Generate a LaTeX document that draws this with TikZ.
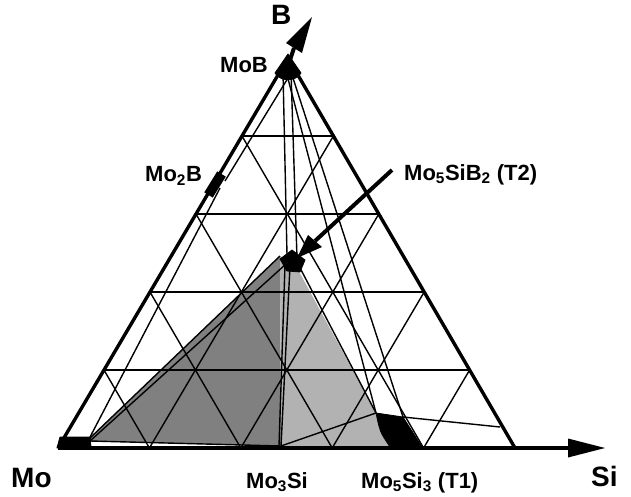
\documentclass[tikz,border=0pt]{standalone}
\usepackage{fontspec}
\setmainfont{Liberation Sans}
\usetikzlibrary{calc}
\begin{document}
\begin{tikzpicture}[x=1pt,y=-1pt,
  outer/.style={line width=3.4pt,line join=round},
  gridline/.style={line width=1.4pt},
  tie/.style={line width=1.4pt},
  blob/.style={fill=black,draw=black,line width=0.8pt,line join=round},
  lbl/.style={font=\fontsize{22}{26}\selectfont\bfseries,inner sep=0pt,anchor=base west},
  biglbl/.style={font=\fontsize{28}{32}\selectfont\bfseries,inner sep=0pt,anchor=base west}]
\useasboundingbox (0,0) rectangle (631,497);
% corners
\coordinate (A) at (58,448);
\coordinate (C) at (515,448);
\coordinate (P) at (288,58);
% phases
\coordinate (MoR) at (89,439);
\coordinate (MoRb) at (90,441);
\coordinate (Mo2B) at (220,188);
\coordinate (Mo2Bt) at (225,181);
\coordinate (T2a) at (280,256);
\coordinate (T2b) at (286,264);
\coordinate (T2c) at (285,265);
\coordinate (T2d) at (290,266);
\coordinate (T2e) at (296,266);
\coordinate (T2f) at (299,266);
\coordinate (Mo3Si) at (281,446);
\coordinate (Mo3Sib) at (279,446);
\coordinate (T1a) at (376,413);
\coordinate (T1b) at (403,417);
\coordinate (T1c) at (422,447);
\coordinate (T1d) at (390,447);
\coordinate (Rs) at (500,427);
\coordinate (Pa) at (288,78);
\coordinate (Pb) at (283,72);
\coordinate (Pc) at (291,72);
\coordinate (Pd) at (287,75);
\coordinate (Pe) at (292,75);
\coordinate (T2g) at (287,255);
\coordinate (T2h) at (297,258);
% grid points
\foreach \k in {1,2,3,4}{
  \coordinate (L\k) at ($(A)!\k/5!(P)$);
  \coordinate (R\k) at ($(C)!\k/5!(P)$);
  \coordinate (G\k) at ($(A)!\k/5!(C)$);
}
% gray regions
\fill[fill=black!50] (T2a) -- (Mo3Si) -- (MoRb) -- (MoR) -- cycle;
\fill[fill=black!30] (T2a) -- (T2e) -- (T1a) .. controls (380,432) .. (T1d) -- (Mo3Si) -- cycle;
% grid
\foreach \k in {1,2,3,4}{
  \pgfmathtruncatemacro\j{5-\k}
  \draw[gridline] (L\k) -- (R\k);
  \draw[gridline] (G\k) -- (R\j);
  \draw[gridline] (G\k) -- (L\k);
}
% tie lines
\draw[tie] (Pa) -- (Mo2Bt);
\draw[tie] (Mo2B) -- (MoR);
\draw[tie] (MoR) -- (T2a);
\draw[tie] (MoRb) -- (T2b);
\draw[tie] (MoRb) -- (Mo3Si);
\draw[tie] (T2c) -- (Mo3Sib);
\draw[tie] (T2d) -- (Mo3Si);
\draw[tie] (Pb) -- (T2g);
\draw[tie] (Pc) -- (T2h);
\draw[tie] (Pd) -- (T1a);
\draw[tie] (Pe) -- (T1b);
\draw[tie] (T2f) -- (T1a);
\draw[tie] (Mo3Si) -- (T1a);
\draw[tie] (T1b) -- (Rs);
% outer triangle
\draw[outer] (A) -- (P) -- (C);
% blobs
\fill[blob] (T1a) -- (T1b) -- (T1c) -- (T1d) .. controls (380,432) .. (T1a) -- cycle;
\fill[blob] (57,448) -- (60,437) -- (90,437) -- (91,447) -- cycle;
\fill[blob] (288,54) -- (301,73) .. controls (296,82) and (280,82) .. (275,73) -- cycle;
\fill[blob] (280,259) -- (292,250) -- (305,260) -- (300,272) -- (287,271) -- cycle;
\draw[line width=10pt] (208.5,195) -- (221.5,174);
% base axis arrow
\coordinate (SiHead) at (568,448);
\coordinate (SiTip) at (605,448);
\draw[line width=4pt] (A) -- (SiHead);
\fill (568,438.5) -- (SiTip) -- (568,457.5) -- cycle;
% B axis arrow
\coordinate (BBase) at (294,48);
\coordinate (BTip) at (312,17);
\draw[line width=4pt] (288,66) -- (BBase);
\fill (286,43) -- (BTip) -- (302,53) -- cycle;
% T2 pointer arrow
\coordinate (T2Start) at (392,170);
\coordinate (T2Base) at (315,241);
\coordinate (T2Tip) at (297,258);
\draw[line width=4pt] (T2Start) -- (T2Base);
\fill (308,235) -- (T2Tip) -- (322,247) -- cycle;
% labels
\node[biglbl] (lB) at (271,25) {B};
\node[lbl] (lMoB) at (220,73) {MoB};
\node[lbl] (lMo2B) at (145,182) {Mo\textsubscript{2}B};
\node[lbl] (lT2) at (404,180) {Mo\textsubscript{5}SiB\textsubscript{2} (T2)};
\node[biglbl] (lMo) at (11,487) {Mo};
\node[lbl] (lMo3Si) at (246,488) {Mo\textsubscript{3}Si};
\node[lbl] (lT1) at (361,488) {Mo\textsubscript{5}Si\textsubscript{3} (T1)};
\node[biglbl] (lSi) at (591,486) {Si};
\end{tikzpicture}
\end{document}
